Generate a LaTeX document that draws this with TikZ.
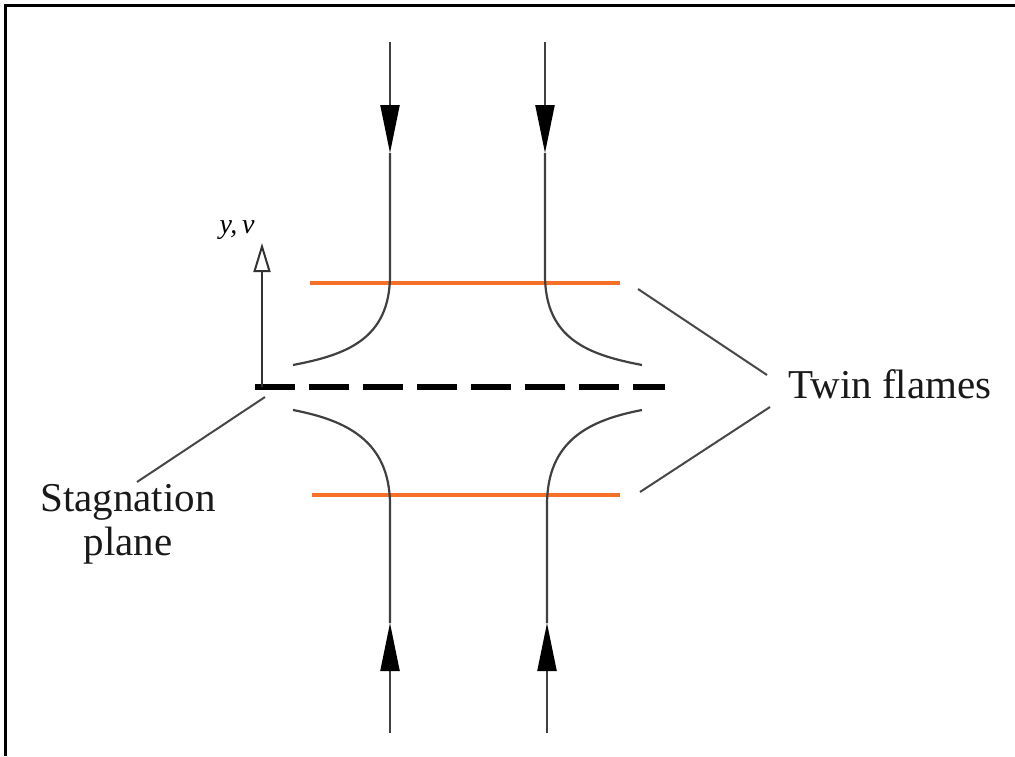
\documentclass[tikz,border=0pt]{standalone}
\usepackage{fontspec}
\setmainfont{Liberation Serif}
\usetikzlibrary{arrows.meta}
\definecolor{flame}{RGB}{246,112,40}
\begin{document}
\begin{tikzpicture}[x=1pt,y=-1pt,
  stream/.style={line width=2.2pt, draw=black!75},
  flowtip/.style={-{Triangle[length=48pt,width=19pt,color=black]}},
  leader/.style={line width=2pt, draw=black!72},
  flameline/.style={line width=4pt, draw=flame},
  plane/.style={line width=5.5pt, draw=black, dash pattern=on 40pt off 14pt},
  lbl/.style={inner sep=0pt, text=black!90, font=\fontsize{41}{44}\selectfont}]
\useasboundingbox (0,0) rectangle (1015,756);
% frame
\draw[line width=3pt] (5.5,756) -- (5.5,5.5) -- (1015,5.5);
% named points
\coordinate (tlA) at (390,42);  \coordinate (tlB) at (390,153); \coordinate (tlC) at (390,275); \coordinate (tlD) at (293,365);
\coordinate (trA) at (545,42);  \coordinate (trB) at (545,153); \coordinate (trC) at (545,275); \coordinate (trD) at (642,365);
\coordinate (blA) at (390,733); \coordinate (blB) at (390,623); \coordinate (blC) at (390,505); \coordinate (blD) at (293,410);
\coordinate (brA) at (547,733); \coordinate (brB) at (547,623); \coordinate (brC) at (547,505); \coordinate (brD) at (642,410);
% flames
\coordinate (f1a) at (310,283); \coordinate (f1b) at (620,283);
\coordinate (f2a) at (312,495); \coordinate (f2b) at (620,495);
\draw[flameline] (f1a) -- (f1b);
\draw[flameline] (f2a) -- (f2b);
% streamlines
\draw[stream,flowtip] (tlA) -- (tlB);
\draw[stream] (tlB) -- (tlC) .. controls (390,340) and (345,355) .. (tlD);
\draw[stream,flowtip] (trA) -- (trB);
\draw[stream] (trB) -- (trC) .. controls (545,340) and (590,355) .. (trD);
\draw[stream,flowtip] (blA) -- (blB);
\draw[stream] (blB) -- (blC) .. controls (390,440) and (345,420) .. (blD);
\draw[stream,flowtip] (brA) -- (brB);
\draw[stream] (brB) -- (brC) .. controls (547,440) and (590,420) .. (brD);
% stagnation plane
\coordinate (spL) at (255,387); \coordinate (spR) at (665,387);
\draw[plane] (spL) -- (spR);
% axis
\coordinate (ax0) at (262,387); \coordinate (ax1) at (262,243);
\draw[line width=2pt, draw=black!80, -{Triangle[open,length=29pt,width=17pt,fill=white]}] (ax0) -- (ax1);
\node[inner sep=0pt, font=\fontsize{28}{30}\selectfont\itshape] (yv) at (237,230) {y,\,v};
% labels
\node[lbl] (twin) at (890,384) {Twin flames};
\node[lbl, align=center] (stag) at (128,524) {Stagnation\\plane};
\coordinate (t1) at (638,289); \coordinate (t1e) at (767,375);
\coordinate (t2) at (640,492); \coordinate (t2e) at (770,407);
\coordinate (s1) at (265,397); \coordinate (s1e) at (137,482);
\draw[leader] (t1) -- (t1e);
\draw[leader] (t2) -- (t2e);
\draw[leader] (s1) -- (s1e);
\end{tikzpicture}
\end{document}
